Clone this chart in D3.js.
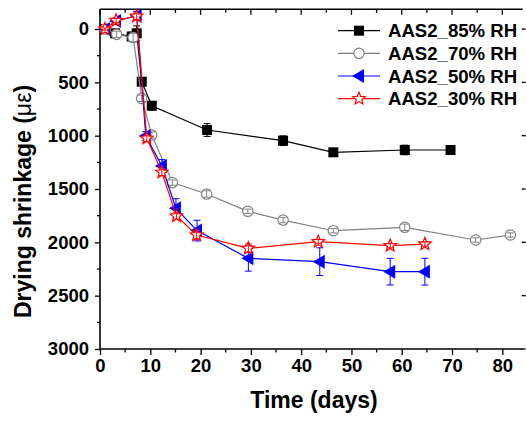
<!DOCTYPE html>
<html><head><meta charset="utf-8">
<script src="https://cdn.jsdelivr.net/npm/d3@7/dist/d3.min.js"></script>
<style>body{margin:0;background:#fff}svg{display:block}text{font-family:"Liberation Sans",Arial,sans-serif;font-weight:bold}</style>
</head><body><svg id="c" width="527" height="421"></svg>
<script>
const seriesNames = ["AAS2_85% RH","AAS2_70% RH","AAS2_50% RH","AAS2_30% RH"];
const t85 = [1, 3, 6.3, 7.3, 8.3, 10.3, 21.3, 36.4, 46.4, 60.6, 69.7];
const v85 = [0, 40, 70, 40, 494, 719, 947, 1047, 1156, 1134, 1134];
const e85 = [10, 20, 40, 70, 30, 40, 60, 45, 25, 45, 20];
const t70 = [1, 3.3, 6.6, 8.3, 10.3, 14.4, 21.2, 29.4, 36.4, 46.4, 60.6, 74.7, 81.6];
const v70 = [0, 50, 80, 650, 994, 1440, 1547, 1709, 1791, 1891, 1859, 1978, 1931];
const e70 = [10, 30, 40, 30, 30, 25, 30, 20, 25, 20, 30, 20, 20];
const t50 = [1, 3.2, 7.3, 9.1, 12.3, 15.1, 19.3, 29.5, 43.7, 57.7, 64.6];
const v50 = [0, -75, -125, 1003, 1284, 1681, 1890, 2150, 2181, 2275, 2275];
const e50 = [15, 30, 40, 40, 60, 90, 97, 120, 130, 125, 125];
const t30 = [1, 3.2, 7.3, 9.3, 12.3, 15.2, 19.2, 29.5, 43.4, 57.7, 64.6];
const v30 = [0, -80, -120, 1025, 1344, 1753, 1931, 2056, 1994, 2031, 2016];
const e30 = [10, 20, 30, 30, 30, 30, 40, 40, 20, 20, 20];
const xTicks = [0,10,20,30,40,50,60,70,80];
const yTicks = [0,500,1000,1500,2000,2500,3000];

const L=100,R=522.7,T=9.3,B=349;
const svg=d3.select("#c");
const x=d3.scaleLinear().domain([0,84.05]).range([L,R]);
const y=d3.scaleLinear().domain([-185,3000]).range([T,B]);

const colors=["#000000","#808080","#0000ff","#ff0000"];
const data=[[t85,v85,e85],[t70,v70,e70],[t50,v50,e50],[t30,v30,e30]].map((s,i)=>({
  name:seriesNames[i],color:colors[i],pts:s[0].map((t,j)=>({t,v:s[1][j],e:s[2][j]}))}));

// axes
const fs=18.5;
const gx=svg.append("g").attr("transform",`translate(0,${B})`)
 .call(d3.axisBottom(x).tickValues(xTicks).tickFormat(d3.format("d")).tickSize(6).tickPadding(4).tickSizeOuter(0));
gx.selectAll("text").attr("font-size",fs).attr("fill","#000").attr("font-family","Liberation Sans, Arial, sans-serif").attr("font-weight","bold");
gx.append("g").selectAll("line").data(d3.range(5,84,10)).join("line")
  .attr("x1",d=>x(d)).attr("x2",d=>x(d)).attr("y1",0).attr("y2",3.5).attr("stroke","#000").attr("stroke-width",1.3);
const gy=svg.append("g").attr("transform",`translate(${L},0)`)
 .call(d3.axisLeft(y).tickValues(yTicks).tickFormat(d3.format("d")).tickSize(5).tickPadding(6).tickSizeOuter(0));
gy.selectAll("text").attr("font-size",fs).attr("fill","#000").attr("font-family","Liberation Sans, Arial, sans-serif").attr("font-weight","bold");
gy.append("g").selectAll("line").data(d3.range(250,3000,500)).join("line")
  .attr("x1",0).attr("x2",-3).attr("y1",d=>y(d)).attr("y2",d=>y(d)).attr("stroke","#000").attr("stroke-width",1.3);
[gx,gy].forEach(g=>{g.select(".domain").attr("stroke-width",1.6);g.selectAll(".tick line").attr("stroke-width",1.3);});
gy.select(".domain").attr("d",`M0,${T}V${B}`);
gx.select(".domain").attr("d",`M${L},0H${R}`);
// top axis
const topAx=svg.append("g");
topAx.append("line").attr("x1",L).attr("x2",R).attr("y1",T).attr("y2",T).attr("stroke","#000").attr("stroke-width",1.6);
topAx.selectAll("line.mj").data(xTicks).join("line").attr("class","mj")
  .attr("x1",d=>x(d)).attr("x2",d=>x(d)).attr("y1",T).attr("y2",T+5.5).attr("stroke","#000").attr("stroke-width",1.3);
topAx.selectAll("line.mn").data(d3.range(5,84,10)).join("line").attr("class","mn")
  .attr("x1",d=>x(d)).attr("x2",d=>x(d)).attr("y1",T).attr("y2",T+3.5).attr("stroke","#000").attr("stroke-width",1.3);
// right ticks
svg.append("g").selectAll("line").data(yTicks).join("line")
  .attr("x1",R-1).attr("x2",R+3).attr("y1",d=>y(d)).attr("y2",d=>y(d)).attr("stroke","#000").attr("stroke-width",1.3);

// titles
svg.append("text").attr("x",314).attr("y",408).attr("text-anchor","middle").attr("font-size",23).text("Time (days)");
const yt=svg.append("text").attr("transform",`translate(31,${(72+325)/2+3}) rotate(-90)`).attr("text-anchor","middle").attr("font-size",23);
yt.append("tspan").text("Drying shrinkage (");
yt.append("tspan").attr("font-weight","normal").text("με");
yt.append("tspan").text(")");

// symbols
function marker(g,i,cx,cy){
  if(i===0) g.append("rect").attr("x",cx-5).attr("y",cy-5).attr("width",10).attr("height",10).attr("fill","#000");
  else if(i===1) g.append("circle").attr("cx",cx).attr("cy",cy).attr("r",5.2).attr("fill","#fff").attr("stroke","#808080").attr("stroke-width",1.2);
  else if(i===2) g.append("path").attr("d",`M${cx-7},${cy}L${cx+5},${cy-7}L${cx+5},${cy+7}Z`).attr("fill","#0000ff");
  else {
    const p=[];for(let k=0;k<10;k++){const a=-Math.PI/2+k*Math.PI/5;const r=k%2?2.9:6.6;p.push([cx+r*Math.cos(a),cy+r*Math.sin(a)]);}
    g.append("path").attr("d","M"+p.map(q=>q.join(",")).join("L")+"Z").attr("fill","#fff").attr("stroke","#ff0000").attr("stroke-width",1.2);
  }
}
const line=d3.line().x(d=>x(d.t)).y(d=>y(d.v));
data.forEach((s,i)=>{
  const g=svg.append("g");
  g.append("path").datum(s.pts).attr("d",line).attr("fill","none").attr("stroke",s.color).attr("stroke-width",1.2);
  s.pts.forEach(p=>marker(g,i,x(p.t),y(p.v)));
  s.pts.forEach(p=>{
    const cx=x(p.t),y1=y(p.v-p.e),y2=y(p.v+p.e);
    g.append("path").attr("d",`M${cx},${y1}V${y2}M${cx-3.5},${y1}H${cx+3.5}M${cx-3.5},${y2}H${cx+3.5}`)
      .attr("stroke",s.color).attr("stroke-width",1).attr("fill","none");
  });
});

// legend
const ly=[30.7,53.3,76,98.7];
data.forEach((s,i)=>{
  const g=svg.append("g");
  g.append("line").attr("x1",338).attr("x2",380).attr("y1",ly[i]).attr("y2",ly[i]).attr("stroke",s.color).attr("stroke-width",1.2);
  marker(g,i,359,ly[i]);
  g.append("text").attr("x",388).attr("y",ly[i]).attr("dy","0.36em").attr("font-size",18.6).text(s.name);
});
</script></body></html>
